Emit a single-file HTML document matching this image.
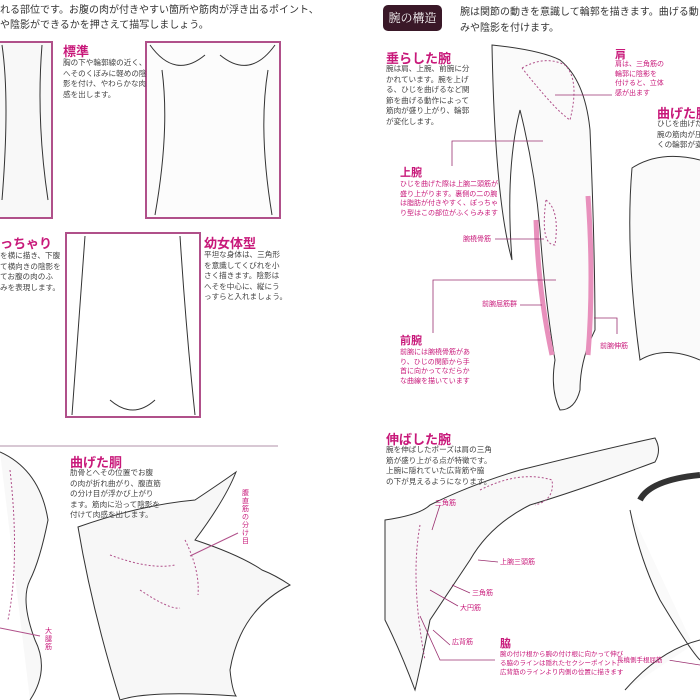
<!DOCTYPE html>
<html><head><meta charset="utf-8"><style>
html,body{margin:0;padding:0}
#w{width:700px;height:700px;background:#fff;overflow:hidden;position:relative;font-family:"Liberation Sans","Noto Sans CJK JP",sans-serif;color:#333}
.t{position:absolute;white-space:nowrap}
.h{color:#c8197a;font-weight:bold;font-size:13px}
.b{font-size:7.6px;line-height:10.5px;color:#444}
.m{color:#c8197a;font-size:7px;line-height:9.5px}
svg{position:absolute;left:0;top:0}
</style></head><body><div id="w">
<svg width="700" height="700" viewBox="0 0 700 700" fill="none" stroke="#333" stroke-width="1">
<rect x="-2" y="42" width="54" height="176" stroke="#b0508a" stroke-width="2" fill="#f8f8f8"/>
<rect x="146" y="42" width="134" height="176" stroke="#b0508a" stroke-width="2" fill="#fcfcfc"/>
<rect x="66" y="233" width="134" height="184" stroke="#b0508a" stroke-width="2" fill="#fff"/>
<line x1="0" y1="446" x2="278" y2="446" stroke="#d8c8d4" stroke-width="2"/>
<path d="M150 45 Q175 80 205 55 M220 55 Q250 80 275 45 M162 70 Q170 130 155 215 M268 70 Q258 130 272 215"/>
<path d="M85 236 Q78 330 72 415 M180 236 Q186 330 195 415 M2 45 Q10 100 2 200 M42 45 Q36 120 48 200"/>
<path d="M110 400 Q133 420 155 400"/>
<path d="M78 527 Q140 505 195 500 Q225 480 236 472 Q225 500 195 540 Q240 555 262 570 Q275 575 290 585 Q240 610 230 670 Q232 690 236 696 Q150 690 120 700 Q92 610 78 527 Z" fill="#f7f7f7"/>
<path d="M110 555 Q150 570 175 565 M140 590 Q170 610 180 608 M185 540 Q200 570 198 595" stroke="#b0508a" stroke-dasharray="2 2"/>
<line x1="190" y1="556" x2="238" y2="533" stroke="#b0508a"/>
<path d="M0 452 Q40 470 48 520 Q40 560 30 580 Q20 600 35 640 Q50 670 30 700" fill="#f8f8f8"/>
<path d="M10 470 Q20 560 8 620" stroke="#b0508a" stroke-dasharray="2 2"/>
<line x1="0" y1="628" x2="40" y2="636" stroke="#b0508a"/>
<path d="M492 45 Q540 50 560 60 Q585 80 590 130 Q595 250 595 330 Q580 360 580 390 Q575 410 560 410 Q550 390 555 360 Q545 300 540 230 Q535 170 520 110 Q505 170 512 260 Q495 200 492 45 Z" fill="#fafafa"/>
<path d="M522 68 Q545 55 565 65 Q580 80 570 120 Q555 110 522 68" stroke="#b0508a" stroke-dasharray="2 2"/>
<path d="M546 200 Q560 210 555 245 Q540 245 546 200" stroke="#b0508a" stroke-dasharray="2 2"/>
<path d="M536 220 Q538 290 552 355" stroke="#e890bc" stroke-width="5"/>
<path d="M588 196 Q594 280 588 355" stroke="#e890bc" stroke-width="5"/>
<g stroke="#9a3070" stroke-width="0.8">
<polyline points="452,166 452,141 543,141"/><line x1="495" y1="239" x2="544" y2="239"/>
<polyline points="433,333 433,280 556,280"/><line x1="520" y1="305" x2="542" y2="305"/>
<polyline points="617,334 617,318 594,318"/><line x1="555" y1="95" x2="612" y2="95"/>
</g>
<path d="M700 160 Q660 150 632 168 Q625 250 640 360 Q665 345 700 360" fill="#fafafa"/>
<path d="M385 520 Q420 515 430 505 Q470 485 520 470 Q600 450 655 438 Q662 450 655 462 Q580 490 530 505 Q490 525 470 560 Q450 590 430 620 Q420 670 415 690 Q400 650 385 620 Z" fill="#f8f8f8"/>
<path d="M480 490 Q520 470 552 480 Q555 500 535 505" stroke="#b0508a" stroke-dasharray="2 2"/>
<path d="M420 525 Q410 580 425 660" stroke="#b0508a" stroke-dasharray="2 2"/>
<g stroke="#9a3070" stroke-width="0.8">
<line x1="432" y1="530" x2="440" y2="505"/><line x1="478" y1="560" x2="498" y2="562"/>
<line x1="452" y1="585" x2="470" y2="593"/><line x1="430" y1="590" x2="458" y2="606"/>
<line x1="433" y1="630" x2="450" y2="645"/><polyline points="420,616 440,660 495,660"/>
<line x1="668" y1="660" x2="700" y2="665"/>
</g>
<path d="M640 500 Q650 480 700 475" stroke="#333" stroke-width="6"/>
<path d="M630 510 Q640 560 660 600 Q690 650 700 660 M625 690 Q660 650 700 640" fill="#fafafa"/>
</svg>

<div class="t" style="left:0;top:3px;font-size:10px;line-height:15px">れる部位です。お腹の肉が付きやすい箇所や筋肉が浮き出るポイント、<br>や陰影ができるかを押さえて描写しましょう。</div>
<div class="t h" style="left:63px;top:41px">標準</div>
<div class="t b" style="left:63px;top:58px">胸の下や輪郭線の近く、<br>へそのくぼみに軽めの陰<br>影を付け、やわらかな肉<br>感を出します。</div>
<div class="t h" style="left:0;top:233px">っちゃり</div>
<div class="t b" style="left:0;top:251px">を横に描き、下腹<br>て横向きの陰影を<br>てお腹の肉のふ<br>みを表現します。</div>
<div class="t h" style="left:204px;top:233px">幼女体型</div>
<div class="t b" style="left:204px;top:250px">平坦な身体は、三角形<br>を意識してくびれを小<br>さく描きます。陰影は<br>へそを中心に、縦にう<br>っすらと入れましょう。</div>
<div class="t h" style="left:70px;top:452px">曲げた胴</div>
<div class="t b" style="left:70px;top:468px">肋骨とへその位置でお腹<br>の肉が折れ曲がり、腹直筋<br>の分け目が浮かび上がり<br>ます。筋肉に沿って陰影を<br>付けて肉感を出します。</div>
<div class="t m" style="left:242px;top:490px;width:9px;white-space:normal;line-height:8px">腹直筋の分け目</div>
<div class="t m" style="left:45px;top:628px;width:9px;white-space:normal;line-height:8px">大腿筋</div>

<div class="t" style="left:383px;top:5px;width:59px;height:26px;background:#3a1828;border-radius:5px;color:#fff;font-family:'Liberation Serif','Noto Serif CJK SC',serif;font-size:12px;line-height:26px;text-align:center">腕の構造</div>
<div class="t" style="left:460px;top:5px;font-size:10px;line-height:16px">腕は関節の動きを意識して輪郭を描きます。曲げる動きや伸ば<br>みや陰影を付けます。</div>
<div class="t h" style="left:386px;top:48px">垂らした腕</div>
<div class="t b" style="left:386px;top:64px">腕は肩、上腕、前腕に分<br>かれています。腕を上げ<br>る、ひじを曲げるなど関<br>節を曲げる動作によって<br>筋肉が盛り上がり、輪郭<br>が変化します。</div>
<div class="t h" style="left:615px;top:46px;font-size:11px">肩</div>
<div class="t m" style="left:615px;top:60px">肩は、三角筋の<br>輪郭に陰影を<br>付けると、立体<br>感が出ます</div>
<div class="t h" style="left:657px;top:103px">曲げた腕</div>
<div class="t b" style="left:657px;top:119px">ひじを曲げた<br>腕の筋肉が圧<br>くの輪郭が変</div>
<div class="t h" style="left:400px;top:164px;font-size:11px">上腕</div>
<div class="t m" style="left:400px;top:180px">ひじを曲げた際は上腕二頭筋が<br>盛り上がります。裏側の二の腕<br>は脂肪が付きやすく、ぽっちゃ<br>り型はこの部位がふくらみます</div>
<div class="t m" style="left:463px;top:235px">腕橈骨筋</div>
<div class="t m" style="left:482px;top:300px">前腕屈筋群</div>
<div class="t m" style="left:600px;top:342px">前腕伸筋</div>
<div class="t h" style="left:400px;top:332px;font-size:11px">前腕</div>
<div class="t m" style="left:400px;top:348px">前腕には腕橈骨筋があ<br>り、ひじの関節から手<br>首に向かってなだらか<br>な曲線を描いています</div>
<div class="t h" style="left:386px;top:429px">伸ばした腕</div>
<div class="t b" style="left:386px;top:445px">腕を伸ばしたポーズは肩の三角<br>筋が盛り上がる点が特徴です。<br>上腕に隠れていた広背筋や脇<br>の下が見えるようになります。</div>
<div class="t m" style="left:435px;top:499px">三角筋</div>
<div class="t m" style="left:500px;top:558px">上腕三頭筋</div>
<div class="t m" style="left:472px;top:589px">三角筋</div>
<div class="t m" style="left:460px;top:604px">大円筋</div>
<div class="t m" style="left:452px;top:638px">広背筋</div>
<div class="t h" style="left:500px;top:635px;font-size:11px">脇</div>
<div class="t m" style="left:500px;top:650px;font-size:6.5px;line-height:9px">腕の付け根から腕の付け根に向かって伸び<br>る脇のラインは隠れたセクシーポイント。<br>広背筋のラインより内側の位置に描きます</div>
<div class="t m" style="left:617px;top:656px;font-size:6.5px">長橈側手根屈筋</div>
</div></body></html>
